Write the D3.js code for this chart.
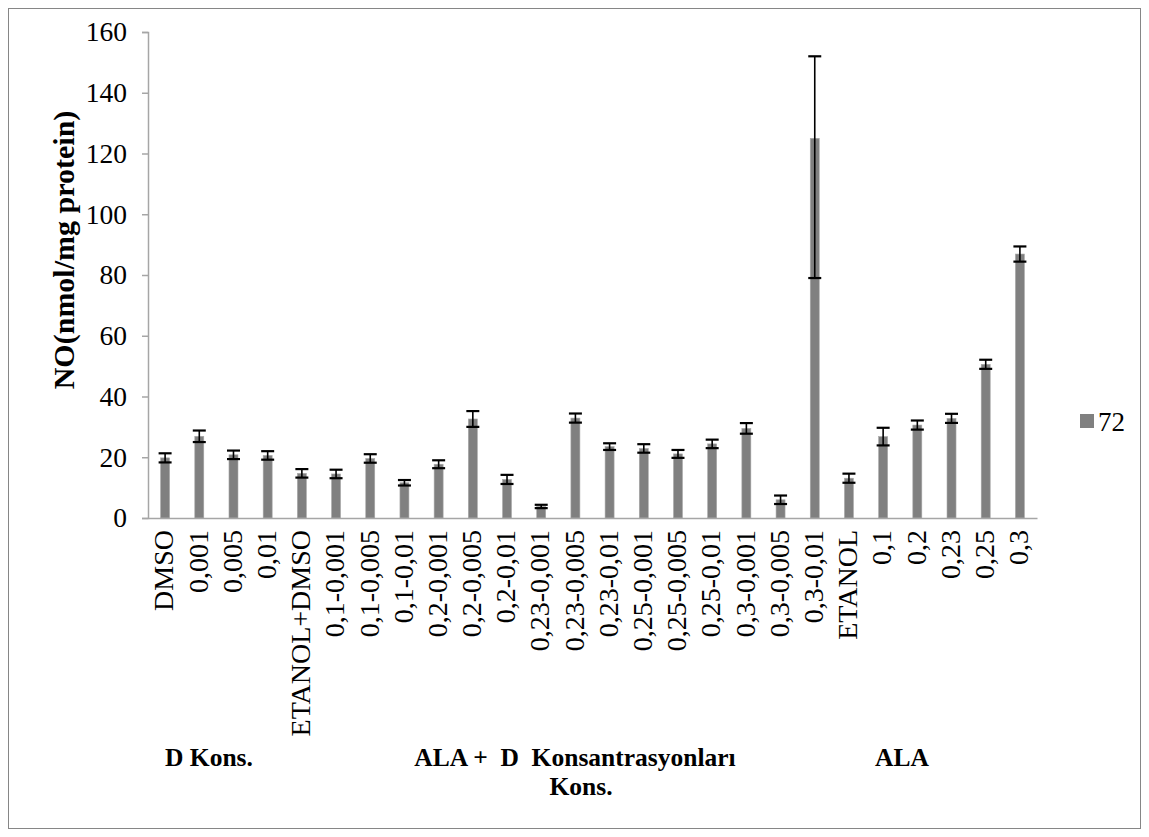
<!DOCTYPE html>
<html><head><meta charset="utf-8">
<script src="https://cdn.jsdelivr.net/npm/d3@7"></script>
<style>body{margin:0;background:#fff}svg{display:block}</style>
</head><body>
<script>
const categories = ["DMSO","0,001","0,005","0,01","ETANOL+DMSO","0,1-0,001","0,1-0,005","0,1-0,01","0,2-0,001","0,2-0,005","0,2-0,01","0,23-0,001","0,23-0,005","0,23-0,01","0,25-0,001","0,25-0,005","0,25-0,01","0,3-0,001","0,3-0,005","0,3-0,01","ETANOL","0,1","0,2","0,23","0,25","0,3"];
const values   = [19.8,26.9,20.8,20.6,14.7,14.5,19.6,11.6,17.7,32.6,12.7,3.8,32.9,23.5,22.9,21.1,24.4,29.5,6.0,125,13.1,26.8,30.6,32.8,50.6,86.9];
const errPlus  = [1.5,1.9,1.4,1.4,1.4,1.4,1.4,0.9,1.3,2.6,1.5,0.55,1.5,1.1,1.4,1.3,1.4,1.75,1.4,27,1.5,2.9,1.5,1.5,1.5,2.5];
const errMinus = [1.5,1.9,1.4,1.4,1.4,1.4,1.4,0.9,1.3,2.6,1.5,0.55,1.5,1.1,1.4,1.3,1.4,1.75,1.4,46,1.5,2.9,1.5,1.5,1.5,2.5];
const yTicks = [0,20,40,60,80,100,120,140,160];
const seriesName = "72";
const yTitle = "NO(nmol/mg protein)";
const groupLabels = [
  {text:"D Kons.", x:209, y:766},
  {text:"ALA +  D  Konsantrasyonları", x:575, y:766},
  {text:"Kons.", x:581, y:795},
  {text:"ALA", x:902, y:766}
];

const W=1149,H=837;
const svg=d3.select("body").append("svg").attr("width",W).attr("height",H);
svg.append("rect").attr("x",8.5).attr("y",8.5).attr("width",1132).attr("height",820)
  .attr("fill","#fff").attr("stroke","#868686").attr("stroke-width",1);

const mL=148,mR=1037,mT=32,mB=518;
const x=d3.scaleBand().domain(categories).range([mL,mR]).paddingInner(0).paddingOuter(0);
const y=d3.scaleLinear().domain([0,160]).range([mB,mT]);
const serif="'Liberation Serif','Times New Roman',serif";

// y axis
const ya=svg.append("g").attr("transform",`translate(${mL},0)`)
  .call(d3.axisLeft(y).tickValues(yTicks).tickSize(6).tickPadding(15));
ya.select(".domain").attr("stroke","#a6a6a6").attr("stroke-width",1.5);
ya.selectAll(".tick line").attr("stroke","#a6a6a6").attr("stroke-width",1.5);
ya.selectAll("text").attr("font-family",serif).attr("font-size",27.5).attr("fill","#000");

// bars
const bw=9;
svg.append("g").selectAll("rect").data(values).join("rect")
  .attr("x",(d,i)=>x(categories[i])+x.bandwidth()/2-bw/2)
  .attr("width",bw)
  .attr("y",d=>y(d))
  .attr("height",d=>y(0)-y(d))
  .attr("fill","#808080").attr("stroke","#a8a8a8").attr("stroke-width",0.6);

// x axis
const xa=svg.append("g").attr("transform",`translate(0,${mB})`)
  .call(d3.axisBottom(x).tickSize(0).tickPadding(0));
xa.select(".domain").attr("stroke","#a6a6a6").attr("stroke-width",1.5);
xa.selectAll(".tick text")
  .attr("font-family",serif).attr("font-size",28).attr("fill","#000")
  .attr("text-anchor","end").attr("dy","0.33em")
  .attr("transform","translate(-1,12) rotate(-90)").attr("x",0).attr("y",0);

// error bars
const cap=6.5;
const eg=svg.append("g").attr("stroke","#000").attr("stroke-width",1.6).attr("fill","none");
values.forEach((v,i)=>{
  const cx=x(categories[i])+x.bandwidth()/2;
  const y1=y(v+errPlus[i]), y2=y(v-errMinus[i]);
  eg.append("line").attr("x1",cx).attr("x2",cx).attr("y1",y1).attr("y2",y2);
  eg.append("line").attr("x1",cx-cap).attr("x2",cx+cap).attr("y1",y1).attr("y2",y1).attr("stroke-width",2.2);
  eg.append("line").attr("x1",cx-cap).attr("x2",cx+cap).attr("y1",y2).attr("y2",y2).attr("stroke-width",2.2);
});

// y title
svg.append("text").attr("transform","translate(74,250) rotate(-90)")
  .attr("text-anchor","middle").attr("font-family",serif).attr("font-weight","bold")
  .attr("font-size",30).text(yTitle);

// group labels
svg.append("g").selectAll("text").data(groupLabels).join("text")
  .attr("x",d=>d.x).attr("y",d=>d.y).attr("text-anchor","middle")
  .style("white-space","pre")
  .attr("font-family",serif).attr("font-weight","bold").attr("font-size",25.5)
  .text(d=>d.text);

// legend
svg.append("rect").attr("x",1080).attr("y",414).attr("width",14).attr("height",14).attr("fill","#808080");
svg.append("text").attr("x",1098).attr("y",431).attr("font-family",serif).attr("font-size",27).text(seriesName);
</script>
</body></html>
